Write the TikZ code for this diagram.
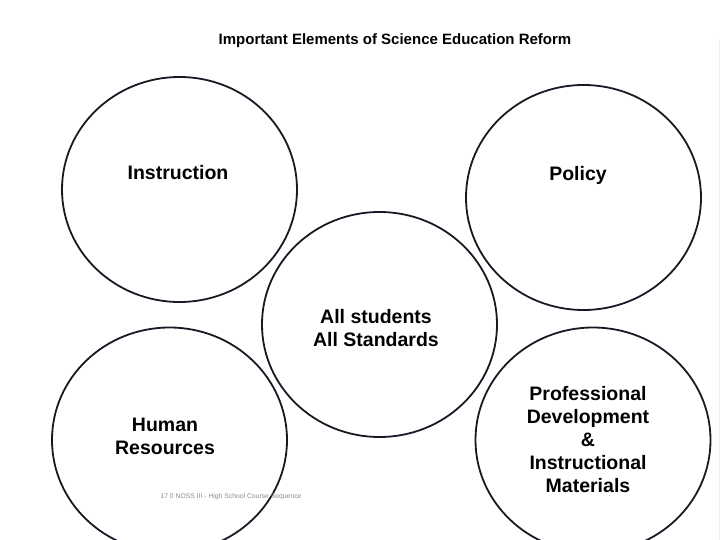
\documentclass[tikz,border=0pt]{standalone}
\usepackage{fontspec}
\setmainfont{Liberation Sans}
\usetikzlibrary{shapes.geometric}
\definecolor{ink}{RGB}{22,26,36}
\tikzset{
  ring/.style={draw=ink, line width=1.8pt, ellipse, minimum width=235pt, minimum height=225pt, inner sep=0pt},
  lbl/.style={font=\fontsize{19.5}{23}\selectfont\bfseries, align=center, inner sep=0pt, text=black},
  ttl/.style={font=\fontsize{15}{18}\selectfont\bfseries, inner sep=0pt},
  foot/.style={font=\fontsize{6.8}{8}\selectfont, text=black!45, inner sep=0pt}
}
\begin{document}
\begin{tikzpicture}[x=1pt,y=-1pt]
\useasboundingbox (0,0) rectangle (720,540);
\fill[white] (0,0) rectangle (720,540);
\draw[black!7, line width=1pt] (719,40) -- (719,540);
\node[ttl] (title) at (395,41) {Important Elements of Science Education Reform};
\node[ring] (cinst) at (179.5,189.5) {};
\node[ring] (cpol) at (583.5,197.5) {};
\node[ring] (ccen) at (379.5,324.5) {};
\node[ring] (chr) at (169.5,440) {};
\node[ring] (cpd) at (593,440) {};
\node[lbl] (tinst) at (178,173) {Instruction};
\node[lbl] (tpol) at (578,175) {Policy};
\node[lbl] (tcen) at (376,328) {All students\\All Standards};
\node[lbl] (thr) at (165,436.5) {Human\\Resources};
\node[lbl] (tpd) at (588,440) {Professional\\Development\\\&\\Instructional\\Materials};
\node[foot] (tfoot) at (231,497) {17 0 NOSS III - High School Course Sequence};
\end{tikzpicture}
\end{document}
